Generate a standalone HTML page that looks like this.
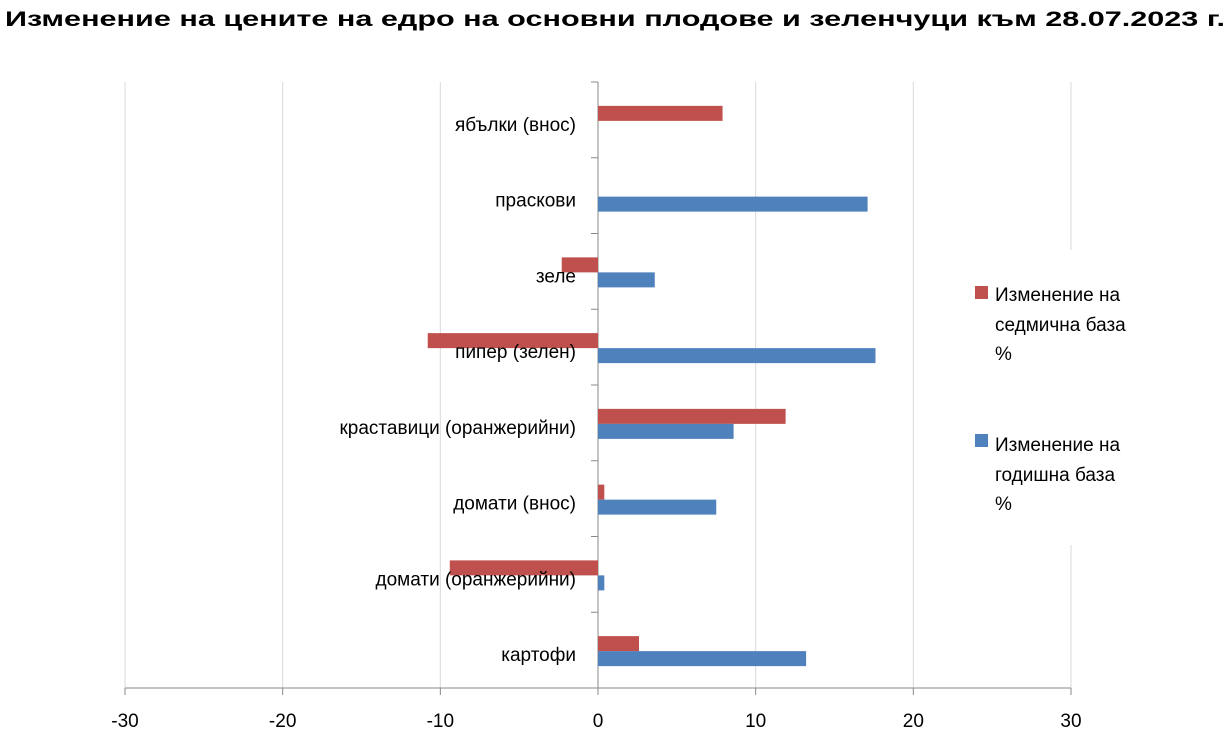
<!DOCTYPE html>
<html><head><meta charset="utf-8"><style>
body{margin:0;background:#fff;width:1231px;height:746px;overflow:hidden;font-family:"Liberation Sans",Arial,sans-serif}
</style></head><body>
<svg id="chart" width="1231" height="746" xmlns="http://www.w3.org/2000/svg" font-family="Liberation Sans, Arial, sans-serif">
<text x="5" y="26" textLength="1220" lengthAdjust="spacingAndGlyphs" font-size="21" font-weight="bold" fill="#000">Изменение на цените на едро на основни плодове и зеленчуци към 28.07.2023 г.</text>
<g id="grid"></g><g id="bars"></g><g id="labels"></g>
<g>
<rect x="960" y="250" width="140" height="295" fill="#fff"/>
<rect x="975" y="286" width="13" height="13" fill="#c0504d"/>
<text font-size="19" fill="#000"><tspan x="995" y="301">Изменение на</tspan><tspan x="995" y="331">седмична база</tspan><tspan x="995" y="360">%</tspan></text>
<rect x="975" y="434" width="13" height="13" fill="#4f81bd"/>
<text font-size="19" fill="#000"><tspan x="995" y="451">Изменение на</tspan><tspan x="995" y="481">годишна база</tspan><tspan x="995" y="510">%</tspan></text>
</g>
</svg>
<script>
const categories=["ябълки (внос)","праскови","зеле","пипер (зелен)","краставици (оранжерийни)","домати (внос)","домати (оранжерийни)","картофи"];
const weekly=[7.9,0,-2.3,-10.8,11.9,0.4,-9.4,2.6];
const yearly=[0,17.1,3.6,17.6,8.6,7.5,0.4,13.2];
const ticks=[-30,-20,-10,0,10,20,30];
const NS="http://www.w3.org/2000/svg";
const x0=125,x1=1071,plotTop=82,plotBot=688,band=(plotBot-plotTop)/categories.length;
const X=v=>x0+(v+30)/60*(x1-x0);
function mk(t,a,p){const e=document.createElementNS(NS,t);for(const k in a)e.setAttribute(k,a[k]);p.insertBefore(e,null);return e;}
const g=document.getElementById('grid'),b=document.getElementById('bars'),l=document.getElementById('labels');
ticks.forEach(t=>{
 if(t!==0){const ln=mk('line',{x1:X(t),x2:X(t),y1:plotTop,y2:plotBot,stroke:'#d9d9d9','stroke-width':1},g);
 }
 const tk=mk('line',{x1:X(t),x2:X(t),y1:plotBot,y2:plotBot+7,stroke:'#888'},g);
 
 const tx=mk('text',{x:X(t),y:727,'text-anchor':'middle','font-size':19,fill:'#000'},l);tx.textContent=t;
 
});
const ax=mk('line',{x1:x0,x2:x1,y1:plotBot,y2:plotBot,stroke:'#888'},g);

const ya=mk('line',{x1:X(0),x2:X(0),y1:plotTop,y2:plotBot,stroke:'#888'},g);

for(let i=0;i<=categories.length;i++){const y=plotTop+i*band;
 const t=mk('line',{x1:X(0)-7,x2:X(0),y1:y,y2:y,stroke:'#888'},g);
 }
categories.forEach((c,i)=>{
 const cy=plotTop+(i+0.5)*band;
 const w=weekly[i],yv=yearly[i];
 const r=mk('rect',{x:Math.min(X(0),X(w)),y:cy-14,width:Math.abs(X(w)-X(0)),height:15,fill:'#c0504d'},b);
 
 const q=mk('rect',{x:Math.min(X(0),X(yv)),y:cy+1,width:Math.abs(X(yv)-X(0)),height:15,fill:'#4f81bd'},b);
 
 const tx=mk('text',{x:576,y:cy+11,'text-anchor':'end','font-size':19,fill:'#000'},l);tx.textContent=c;
 
});
</script>
</body></html>
